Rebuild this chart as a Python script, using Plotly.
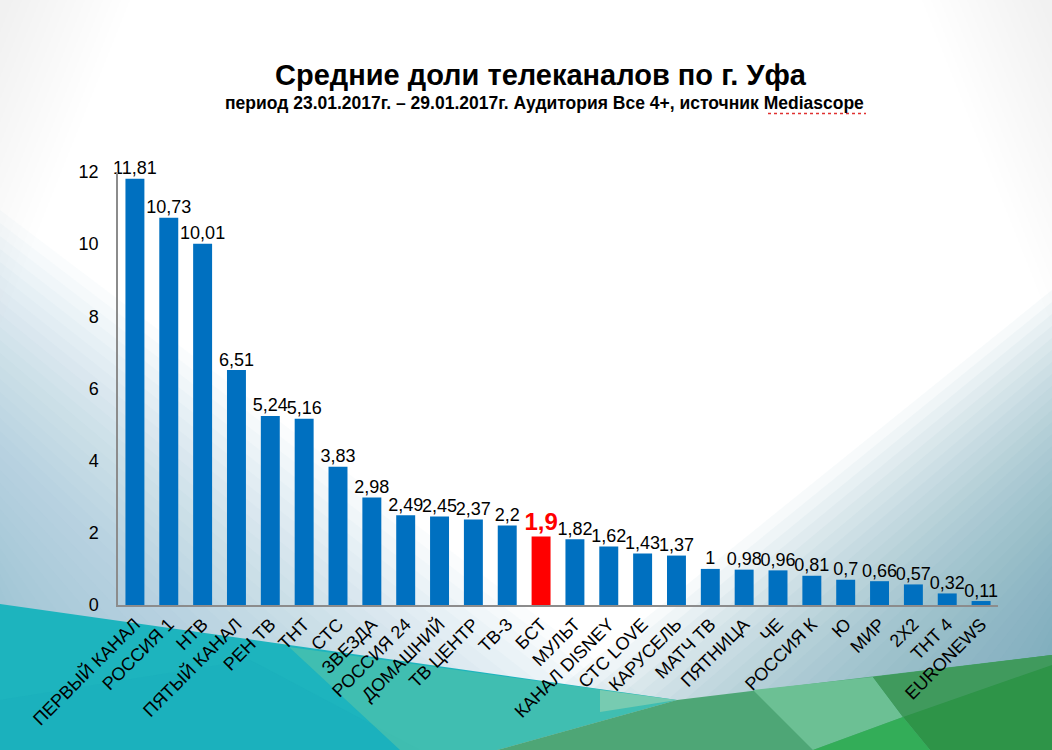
import plotly.graph_objects as go

# ---------------- data ----------------
channels = ["ПЕРВЫЙ КАНАЛ", "РОССИЯ 1", "НТВ", "ПЯТЫЙ КАНАЛ", "РЕН ТВ", "ТНТ", "СТС",
            "ЗВЕЗДА", "РОССИЯ 24", "ДОМАШНИЙ", "ТВ ЦЕНТР", "ТВ-3", "БСТ", "МУЛЬТ",
            "КАНАЛ DISNEY", "СТС LOVE", "КАРУСЕЛЬ", "МАТЧ ТВ", "ПЯТНИЦА", "ЧЕ",
            "РОССИЯ К", "Ю", "МИР", "2X2", "ТНТ 4", "EURONEWS"]
shares = [11.81, 10.73, 10.01, 6.51, 5.24, 5.16, 3.83, 2.98, 2.49, 2.45, 2.37, 2.2, 1.9,
          1.82, 1.62, 1.43, 1.37, 1, 0.98, 0.96, 0.81, 0.7, 0.66, 0.57, 0.32, 0.11]
highlight = "БСТ"
y_ticks = [0, 2, 4, 6, 8, 10, 12]

title_text = "Средние доли телеканалов по г. Уфа"
subtitle_text = "период 23.01.2017г. – 29.01.2017г. Аудитория Все 4+, источник Mediascope"

# ---------------- styling ----------------
W, H = 1052, 750
L, R, T, B = 118, 54, 172, 145
PW, PH = W - L - R, H - T - B
FONT = "Arial, 'Liberation Sans', sans-serif"


def fx(x):
    return (x - L) / PW


def fy(y):
    return (H - B - y) / PH


def fmt(v):
    return ("%g" % v).replace(".", ",")


colors = ["#ff0000" if c == highlight else "#0070c0" for c in channels]
texts = ["<b>%s</b>" % fmt(v) if c == highlight else fmt(v) for c, v in zip(channels, shares)]
tsize = [24 if c == highlight else 18 for c in channels]
tcol = ["#ff0000" if c == highlight else "#000000" for c in channels]

fig = go.Figure()
fig.add_trace(go.Bar(
    x=channels, y=shares, marker_color=colors, marker_line_width=0,
    hoverinfo="skip",
))
fig.add_trace(go.Scatter(
    x=channels, y=shares, mode="text", text=texts, textposition="top center",
    textfont=dict(family=FONT, size=tsize, color=tcol), cliponaxis=False,
    hoverinfo="skip",
))

shapes = []


def poly(pts, color, opacity=1.0):
    path = "M " + " L ".join("%f,%f" % (fx(x), fy(y)) for x, y in pts) + " Z"
    shapes.append(dict(type="path", xref="paper", yref="paper", path=path,
                       fillcolor=color, opacity=opacity, line=dict(width=0), layer="below"))


# soft background gradients (corners)
for i in range(30):
    s = 420 - i * 13
    poly([(0, 630 - s), (0, H), (1.7 * s, H)], "#86b3c8", 0.042)
for i in range(30):
    s = 380 - i * 12
    poly([(W, 670 - s), (W, H), (W - 1.5 * s, H)], "#6fa3bb", 0.055)
for i in range(14):
    w = 130 - i * 9
    poly([(0, 0), (w, 0), (0, 2.5 * w)], "#d2e4e6", 0.03)
for i in range(14):
    w = 130 - i * 9
    poly([(W - w, 0), (W, 0), (W, 2.5 * w)], "#d2e0e8", 0.03)

# decorative teal/green polygons at the bottom
poly([(0, 604), (677, 700), (497, H), (0, H)], "#1db4be")
poly([(0, 700), (250, 660), (420, H), (0, H)], "#1aaebb", 0.5)
poly([(289, 647), (677, 700), (497, H), (400, H)], "#5cc6a6", 0.55)
poly([(677, 700), (1052, 655), (1052, H), (497, H)], "#4ea676")
poly([(600, 690), (677, 700), (600, 712)], "#8fd0b0", 0.7)
poly([(753, 690), (873, 677), (903, 717), (813, H)], "#6cc094")
poly([(873, 677), (1052, 655), (1052, H), (930, H), (903, 717)], "#2e9448")
poly([(813, H), (903, 717), (930, H)], "#33ad58")
poly([(873, 677), (1052, 655), (1052, 665), (903, 717)], "#4c9f6c", 0.6)

# spell-check style red dotted underline under "Mediascope"
shapes.append(dict(type="line", xref="paper", yref="paper",
                   x0=fx(768), x1=fx(866), y0=fy(113.5), y1=fy(113.5),
                   line=dict(color="#e03030", width=1.5, dash="dot"), layer="above"))

annotations = [
    dict(text="<b>%s</b>" % title_text, x=fx(541), y=fy(75), xref="paper", yref="paper",
         showarrow=False, font=dict(family=FONT, size=29, color="#000000"),
         xanchor="center", yanchor="middle"),
    dict(text="<b>%s</b>" % subtitle_text, x=fx(544), y=fy(103), xref="paper", yref="paper",
         showarrow=False, font=dict(family=FONT, size=17.5, color="#000000"),
         xanchor="center", yanchor="middle"),
]

fig.update_layout(
    width=W, height=H,
    margin=dict(l=L, r=R, t=T, b=B, pad=0),
    paper_bgcolor="#ffffff", plot_bgcolor="rgba(0,0,0,0)",
    bargap=0.44, showlegend=False,
    shapes=shapes, annotations=annotations,
    font=dict(family=FONT, color="#000000"),
    xaxis=dict(tickangle=-45, tickfont=dict(family=FONT, size=18, color="#000000"),
               range=[-0.5, len(channels) - 0.5],
               showline=True, linecolor="#8c8c8c", linewidth=1.5, ticks="",
               showgrid=False, zeroline=False, fixedrange=True),
    yaxis=dict(range=[0, 12], tickvals=y_ticks, tickfont=dict(family=FONT, size=18, color="#000000"),
               showline=True, linecolor="#8c8c8c", linewidth=1.5, ticks="",
               ticklabelstandoff=14, showgrid=False, zeroline=False, fixedrange=True),
)

fig.write_html("out.html", config={"displayModeBar": False},
               post_script="document.body.style.margin='0';")
